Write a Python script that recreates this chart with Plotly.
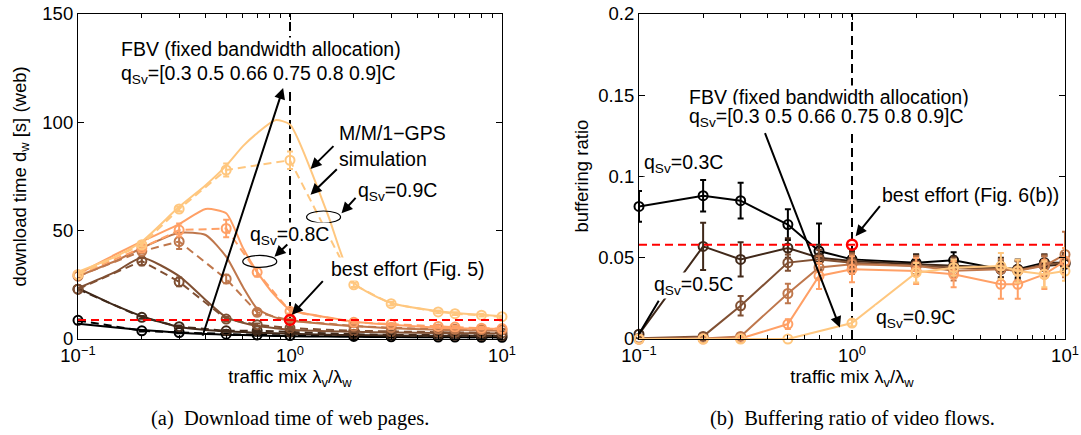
import math
import plotly.graph_objects as go

# ---------------- data ----------------
series_labels = ["0.3C", "0.5C", "0.66C", "0.75C", "0.8C", "0.9C"]
series_colors = ["#000000", "#402819", "#805033", "#bf774c", "#ffa066", "#ffc77f"]

# analytical model (M/M/1-GPS), left panel
x_model = [0.1, 0.15, 0.2, 0.3, 0.4, 0.5, 0.6, 0.7, 0.85, 1, 1.5, 2, 3, 5, 6, 8, 10]
dw_model_03 = [7.0, 5.3, 4.2, 2.9, 2.3, 2.0, 1.8, 1.6, 1.4, 1.3, 1.1, 1.0, 0.9, 0.8, 0.8, 0.8, 0.8]
dw_model_05 = [23.5, 15.5, 10.5, 5.5, 4.2, 3.6, 3.2, 2.9, 2.6, 2.4, 2.0, 1.8, 1.6, 1.5, 1.5, 1.4, 1.4]
dw_model_066 = [23.5, 31, 37.5, 29, 18, 10, 7.5, 6, 5, 4.3, 3.6, 3.3, 3.0, 2.8, 2.7, 2.6, 2.5]
dw_model_075 = [29, 36, 42, 49, 48, 38, 24, 14, 10, 8.5, 6.8, 6.0, 5.0, 4.3, 4.1, 3.9, 3.8]
dw_model_08 = [30, 39, 45, 53, 60, 58, 42, 31, 20, 13.5, 10, 8, 6.6, 5.2, 5.0, 4.8, 4.6]
dw_model_09 = [31, 38, 45, 61, 71, 80, 89, 95, 101, 99, 58, 26, 16.6, 12.8, 12, 11.2, 10.5]

# simulation points
x_sim = [0.1, 0.2, 0.3, 0.5, 0.7, 1, 2, 3, 5, 6, 8, 10]
x_sim_09 = [0.1, 0.2, 0.3, 0.5, 1, 2, 3, 5, 6, 8, 10]

dw_sim_03 = [8.6, 3.8, 3.0, 2.2, 1.9, 1.6, 1.2, 1.0, 0.9, 0.9, 0.8, 0.8]
dw_sim_05 = [23, 10, 5.7, 3.8, 3.8, 3.2, 2.2, 1.9, 1.7, 1.7, 1.6, 1.6]
dw_sim_066 = [23, 36, 26.4, 9.2, 6.6, 5.0, 3.8, 3.4, 3.1, 3.0, 2.9, 2.8]
dw_sim_075 = [29, 40.5, 45, 27.7, 12.3, 8.6, 6.0, 5.2, 4.6, 4.5, 4.3, 4.2]
dw_sim_08 = [29.7, 42, 50.3, 51, 30.8, 12.8, 7.7, 6.8, 5.8, 5.5, 5.0, 4.8]
dw_sim_09 = [29.7, 43.5, 60, 78, 82.5, 25, 16.3, 12.5, 11.7, 11, 10.3]

dw_err_03 = [0.4, 0.3, 0.3, 0.3, 0.3, 0.2, 0.2, 0.2, 0.2, 0.2, 0.2, 0.2]
dw_err_05 = [0.6, 0.6, 0.5, 0.4, 0.3, 0.3, 0.2, 0.2, 0.2, 0.2, 0.2, 0.2]
dw_err_066 = [0.6, 2.0, 2.0, 1.0, 0.6, 0.5, 0.4, 0.3, 0.3, 0.3, 0.3, 0.3]
dw_err_075 = [0.6, 1.0, 3.5, 2.0, 1.2, 0.8, 0.5, 0.4, 0.4, 0.4, 0.4, 0.4]
dw_err_08 = [0.6, 1.0, 3.0, 4.0, 2.0, 1.0, 0.6, 0.5, 0.5, 0.5, 0.5, 0.5]
dw_err_09 = [0.6, 0.8, 1.0, 3.0, 4.0, 1.0, 0.8, 0.6, 0.6, 0.6, 0.6]

br_sim_03 = [0.0816, 0.0882, 0.0851, 0.0704, 0.0541, 0.049, 0.047, 0.0484, 0.0429, 0.0429, 0.047, 0.047]
br_sim_05 = [0.003, 0.057, 0.049, 0.056, 0.050, 0.048, 0.046, 0.045, 0.044, 0.043, 0.045, 0.046]
br_sim_066 = [0.0004, 0.0016, 0.0204, 0.047, 0.049, 0.047, 0.045, 0.044, 0.043, 0.042, 0.046, 0.047]
br_sim_075 = [0.0, 0.0003, 0.0016, 0.028, 0.044, 0.046, 0.045, 0.042, 0.043, 0.042, 0.045, 0.052]
br_sim_08 = [0.0, 0.0, 0.0003, 0.0092, 0.0388, 0.0429, 0.0418, 0.0398, 0.0337, 0.0337, 0.0398, 0.048]
br_sim_09 = [0.0, 0.0, 0.0, 0.0, 0.0098, 0.0408, 0.0439, 0.0449, 0.0418, 0.0398, 0.0418]

br_err_03 = [0.0095, 0.0097, 0.011, 0.0094, 0.017, 0.006, 0.005, 0.005, 0.005, 0.005, 0.005, 0.005]
br_err_05 = [0.002, 0.0145, 0.0106, 0.006, 0.008, 0.006, 0.006, 0.006, 0.006, 0.006, 0.006, 0.006]
br_err_066 = [0.001, 0.001, 0.006, 0.005, 0.006, 0.006, 0.006, 0.006, 0.006, 0.006, 0.006, 0.006]
br_err_075 = [0.0, 0.001, 0.001, 0.006, 0.007, 0.006, 0.006, 0.006, 0.006, 0.006, 0.006, 0.014]
br_err_08 = [0.0, 0.0, 0.001, 0.003, 0.008, 0.008, 0.008, 0.008, 0.009, 0.009, 0.009, 0.008]
br_err_09 = [0.0, 0.0, 0.0, 0.0, 0.002, 0.006, 0.005, 0.008, 0.007, 0.008, 0.006]

best_effort_dw = 8.8
best_effort_br = 0.058

x_ticks = [0.1, 1, 10]
x_tick_text = ["10<sup>\u22121</sup>", "10<sup>0</sup>", "10<sup>1</sup>"]
x_minor = [0.2, 0.3, 0.4, 0.5, 0.6, 0.7, 0.8, 0.9, 2, 3, 4, 5, 6, 7, 8, 9]
dw_ticks = [0, 50, 100, 150]
br_ticks = [0, 0.05, 0.1, 0.15, 0.2]
br_tick_text = ["0", "0.05", "0.1", "0.15", "0.2"]

# ---------------- figure ----------------
W, H = 1081, 435
FONT = "Liberation Sans"
dom_l = [78 / W, 502 / W]
dom_r = [639 / W, 1065 / W]
dom_y = [1 - 339 / H, 1 - 14 / H]

fig = go.Figure()

dw_models = [dw_model_03, dw_model_05, dw_model_066, dw_model_075, dw_model_08, dw_model_09]
dw_sims = [dw_sim_03, dw_sim_05, dw_sim_066, dw_sim_075, dw_sim_08, dw_sim_09]
dw_errs = [dw_err_03, dw_err_05, dw_err_066, dw_err_075, dw_err_08, dw_err_09]
br_sims = [br_sim_03, br_sim_05, br_sim_066, br_sim_075, br_sim_08, br_sim_09]
br_errs = [br_err_03, br_err_05, br_err_066, br_err_075, br_err_08, br_err_09]
sim_xs = [x_sim, x_sim, x_sim, x_sim, x_sim, x_sim_09]

# vertical dashed lines at x = 1
fig.add_trace(go.Scatter(x=[1, 1], y=[0, 150], mode="lines", xaxis="x", yaxis="y",
                         line=dict(color="black", width=2, dash="9px,5px"), showlegend=False))
fig.add_trace(go.Scatter(x=[1, 1], y=[0, 0.2], mode="lines", xaxis="x2", yaxis="y2",
                         line=dict(color="black", width=2, dash="9px,5px"), showlegend=False))

for i, lab in enumerate(series_labels):
    col = series_colors[i]
    fig.add_trace(go.Scatter(x=x_model, y=dw_models[i], mode="lines", xaxis="x", yaxis="y",
                             line=dict(color=col, width=2, shape="spline", smoothing=0.6),
                             showlegend=False, cliponaxis=False))
    fig.add_trace(go.Scatter(x=sim_xs[i], y=dw_sims[i], mode="lines+markers", xaxis="x", yaxis="y",
                             line=dict(color=col, width=2, dash="8px,5px"),
                             marker=dict(symbol="circle-open", size=9, color=col, line=dict(width=2, color=col)),
                             error_y=dict(type="data", array=dw_errs[i], visible=True, color=col,
                                          thickness=2, width=3),
                             showlegend=False, cliponaxis=False))
    fig.add_trace(go.Scatter(x=sim_xs[i], y=br_sims[i], mode="lines+markers", xaxis="x2", yaxis="y2",
                             line=dict(color=col, width=2),
                             marker=dict(symbol="circle-open", size=9, color=col, line=dict(width=2, color=col)),
                             error_y=dict(type="data", array=br_errs[i], visible=True, color=col,
                                          thickness=2, width=3),
                             showlegend=False, cliponaxis=False))

# best effort references
fig.add_trace(go.Scatter(x=[0.1, 10], y=[best_effort_dw, best_effort_dw], mode="lines", xaxis="x", yaxis="y",
                         line=dict(color="#ff0000", width=2, dash="8px,5px"), showlegend=False))
fig.add_trace(go.Scatter(x=[1], y=[best_effort_dw], mode="markers", xaxis="x", yaxis="y",
                         marker=dict(symbol="circle-open", size=10, color="#ff0000", line=dict(width=2.5, color="#ff0000")),
                         showlegend=False, cliponaxis=False))
fig.add_trace(go.Scatter(x=[0.1, 10], y=[best_effort_br, best_effort_br], mode="lines", xaxis="x2", yaxis="y2",
                         line=dict(color="#ff0000", width=2, dash="8px,5px"), showlegend=False))
fig.add_trace(go.Scatter(x=[1], y=[best_effort_br], mode="markers", xaxis="x2", yaxis="y2",
                         marker=dict(symbol="circle-open", size=10, color="#ff0000", line=dict(width=2.5, color="#ff0000")),
                         showlegend=False, cliponaxis=False))

tick_font = dict(family=FONT, size=18.5, color="black")
title_font = dict(family=FONT, size=18.5, color="black")


def xaxis_cfg(domain, anchor):
    return dict(type="log", range=[-1, 1], domain=domain, anchor=anchor, automargin=False,
                tickvals=x_ticks, ticktext=x_tick_text, tickfont=tick_font,
                ticks="inside", ticklen=6, tickwidth=1, tickcolor="black",
                minor=dict(tickvals=x_minor, ticks="inside", ticklen=4, tickcolor="black", showgrid=False),
                showline=True, linecolor="black", linewidth=1.2, mirror="allticks",
                showgrid=False, zeroline=False,
                title=dict(text="traffic mix \u03bb<sub>v</sub>/\u03bb<sub>w</sub>", font=title_font, standoff=2))


def yaxis_cfg(domain, anchor, rng, tv, tt):
    return dict(range=rng, domain=domain, anchor=anchor, automargin=False,
                tickvals=tv, ticktext=tt, tickfont=tick_font,
                ticks="inside", ticklen=6, tickwidth=1, tickcolor="black",
                showline=True, linecolor="black", linewidth=1.2, mirror="allticks",
                showgrid=False, zeroline=False)


fig.update_layout(
    width=W, height=H, margin=dict(l=0, r=0, t=0, b=0, autoexpand=False),
    paper_bgcolor="white", plot_bgcolor="white",
    font=dict(family=FONT, size=18, color="black"),
    xaxis=xaxis_cfg(dom_l, "y"),
    yaxis=yaxis_cfg(dom_y, "x", [0, 150], dw_ticks, [str(v) for v in dw_ticks]),
    xaxis2=xaxis_cfg(dom_r, "y2"),
    yaxis2=yaxis_cfg(dom_y, "x2", [0, 0.2], br_ticks, br_tick_text),
)

L = math.log10
ann_font = dict(family=FONT, size=19.5, color="black")
annotations = []


def text(xr, yr, x, y, s):
    annotations.append(dict(xref=xr, yref=yr, x=L(x), y=y, text=s, showarrow=False,
                            xanchor="left", yanchor="middle", font=ann_font,
                            bgcolor="white", borderpad=0))


def arrow(xr, yr, x0, y0, x1, y1, head=True):
    annotations.append(dict(xref=xr, yref=yr, axref=xr, ayref=yr, x=L(x1), y=y1, ax=L(x0), ay=y0,
                            text="", showarrow=True, arrowhead=2 if head else 0, arrowsize=1.1,
                            arrowwidth=2, arrowcolor="black", standoff=0, startstandoff=0))


# y-axis titles
annotations.append(dict(xref="paper", yref="paper", x=21 / W, y=sum(dom_y) / 2, textangle=-90,
                        text="download time d<sub>w</sub> [s] (web)", showarrow=False, font=title_font,
                        xanchor="center", yanchor="middle"))
annotations.append(dict(xref="paper", yref="paper", x=581 / W, y=sum(dom_y) / 2, textangle=-90,
                        text="buffering ratio", showarrow=False, font=title_font,
                        xanchor="center", yanchor="middle"))

# left panel annotations
text("x", "y", 0.157, 134, "FBV (fixed bandwidth allocation)")
text("x", "y", 0.157, 122, "q<sub>Sv</sub>=[0.3 0.5 0.66 0.75 0.8 0.9]C")
arrow("x", "y", 0.385, 0.8, 0.928, 115.8)
text("x", "y", 1.69, 95, "M/M/1\u2212GPS")
arrow("x", "y", 1.63, 89.7, 1.25, 78.5)
text("x", "y", 1.69, 83, "simulation")
arrow("x", "y", 1.69, 79, 1.25, 66.6)
text("x", "y", 2.07, 68, "q<sub>Sv</sub>=0.9C")
arrow("x", "y", 2.07, 65.8, 1.75, 58)
text("x", "y", 0.638, 48, "q<sub>Sv</sub>=0.8C")
arrow("x", "y", 0.987, 44.3, 0.845, 38)
text("x", "y", 1.54, 32.3, "best effort (Fig. 5)")
arrow("x", "y", 1.45, 27.4, 1.02, 11.2)

# right panel annotations
text("x2", "y2", 0.170, 0.149, "FBV (fixed bandwidth allocation)")
text("x2", "y2", 0.170, 0.1362, "q<sub>Sv</sub>=[0.3 0.5 0.66 0.75 0.8 0.9]C")
arrow("x2", "y2", 0.388, 0.1276, 0.877, 0.0071)
text("x2", "y2", 0.104, 0.108, "q<sub>Sv</sub>=0.3C")
text("x2", "y2", 1.37, 0.0888, "best effort (Fig. 6(b))")
arrow("x2", "y2", 1.37, 0.0827, 1.04, 0.0633)
text("x2", "y2", 0.116, 0.033, "q<sub>Sv</sub>=0.5C")
arrow("x2", "y2", 0.125, 0.0245, 0.1, 0.003, head=False)
text("x2", "y2", 1.28, 0.0127, "q<sub>Sv</sub>=0.9C")

# captions
cap_font = dict(family="Liberation Serif", size=20.5, color="black")
annotations.append(dict(xref="paper", yref="paper", x=sum(dom_l) / 2, y=1 - 418 / H,
                        text="(a)  Download time of web pages.", showarrow=False, font=cap_font,
                        xanchor="center", yanchor="middle"))
annotations.append(dict(xref="paper", yref="paper", x=sum(dom_r) / 2, y=1 - 418 / H,
                        text="(b)  Buffering ratio of video flows.", showarrow=False, font=cap_font,
                        xanchor="center", yanchor="middle"))
fig.update_layout(annotations=annotations)


# ellipses (paper coordinates computed from axis mapping)
def px_l(x):
    return dom_l[0] + (L(x) + 1) / 2 * (dom_l[1] - dom_l[0])


def py_l(y):
    return dom_y[0] + y / 150 * (dom_y[1] - dom_y[0])


for cx, cy in [(1.44, 56.3), (0.72, 35.8)]:
    hx, hy = 17 / W, 6 / H
    fig.add_shape(type="circle", xref="paper", yref="paper",
                  x0=px_l(cx) - hx, x1=px_l(cx) + hx, y0=py_l(cy) - hy, y1=py_l(cy) + hy,
                  line=dict(color="black", width=1.2), layer="above")

fig.write_html("out.html", config={"displayModeBar": False},
               post_script="document.body.style.margin='0px';document.body.style.overflow='hidden';")
